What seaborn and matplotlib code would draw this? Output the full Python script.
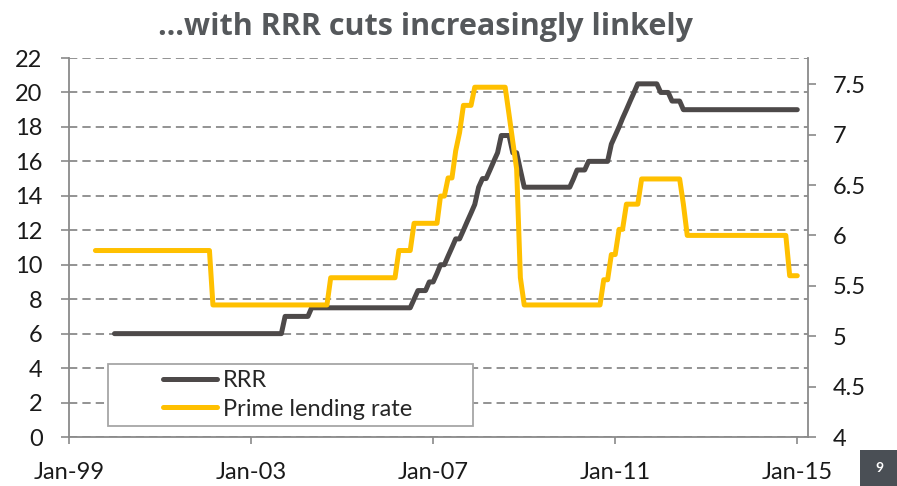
import pandas as pd
import matplotlib
matplotlib.use("Agg")
import matplotlib.pyplot as plt
import matplotlib.dates as mdates
from matplotlib.patches import Rectangle
import seaborn as sns

# Reserve requirement ratio (%, left axis): month in which each level starts
rrr_dates = ["2000-01", "2003-10", "2004-05", "2006-08", "2006-09", "2006-12",
             "2007-02", "2007-03", "2007-05", "2007-06", "2007-07", "2007-09",
             "2007-10", "2007-11", "2007-12", "2008-01", "2008-02", "2008-04",
             "2008-05", "2008-06", "2008-07", "2008-10", "2008-12", "2009-01",
             "2010-02", "2010-03", "2010-06", "2010-12", "2011-01", "2011-02",
             "2011-03", "2011-04", "2011-05", "2011-06", "2011-07", "2012-01",
             "2012-04", "2012-07"]
rrr_levels = [6, 7, 7.5, 8, 8.5, 9,
              9.5, 10, 10.5, 11, 11.5, 12,
              12.5, 13, 13.5, 14.5, 15, 15.5,
              16, 16.5, 17.5, 16.5, 15.5, 14.5,
              15, 15.5, 16, 17, 17.5, 18,
              18.5, 19, 19.5, 20, 20.5, 20,
              19.5, 19]
rrr_last = "2015-01"

# One-year prime lending rate (%, right axis): month in which each level starts
plr_dates = ["1999-08", "2002-03", "2004-10", "2006-04", "2006-08", "2007-03",
             "2007-05", "2007-07", "2007-08", "2007-09", "2007-12", "2008-09",
             "2008-10", "2008-11", "2008-12", "2009-01", "2010-10", "2010-12",
             "2011-02", "2011-04", "2011-08", "2012-07", "2012-08", "2014-11"]
plr_levels = [5.85, 5.31, 5.58, 5.85, 6.12, 6.39,
              6.57, 6.84, 7.02, 7.29, 7.47, 7.20,
              6.93, 6.66, 5.58, 5.31, 5.56, 5.81,
              6.06, 6.31, 6.56, 6.31, 6.00, 5.60]
plr_last = "2015-01"

series_names = ["RRR", "Prime lending rate"]
year_ticks = ["1999-01", "2003-01", "2007-01", "2011-01", "2015-01"]
left_ticks = list(range(0, 23, 2))
right_ticks = [4, 4.5, 5, 5.5, 6, 6.5, 7, 7.5]
title_text = "\u2026with RRR cuts increasingly linkely"
page_number = "9"

GREY_LINE = "#4d4949"
GOLD = "#ffc000"
AXIS_GREY = "#8a8a8a"


def monthly(dates, levels, last):
    """Hold each policy level until the next change, one point per month."""
    s = pd.Series(levels, index=pd.to_datetime(dates))
    idx = pd.date_range(s.index[0], last, freq="MS")
    return s.reindex(idx).ffill()


rrr = monthly(rrr_dates, rrr_levels, rrr_last)
plr = monthly(plr_dates, plr_levels, plr_last)
rrr_df = pd.DataFrame({"date": rrr.index, "value": rrr.values})
plr_df = pd.DataFrame({"date": plr.index, "value": plr.values})

sns.set_style("white")
plt.rcParams["font.family"] = ["Lato", "DejaVu Sans"]

W, H = 897, 486
fig = plt.figure(figsize=(W / 100, H / 100), dpi=100)
ax = fig.add_axes([69 / W, 1 - 437 / H, (808 - 69) / W, (437 - 58) / H])
ax2 = ax.twinx()

sns.lineplot(data=rrr_df, x="date", y="value", ax=ax, color=GREY_LINE,
             linewidth=3.6, solid_capstyle="round", solid_joinstyle="round",
             label=series_names[0], legend=False)
sns.lineplot(data=plr_df, x="date", y="value", ax=ax2, color=GOLD,
             linewidth=3.6, solid_capstyle="round", solid_joinstyle="round",
             label=series_names[1], legend=False)

# axes limits and ticks
ax.set_xlim(pd.Timestamp("1999-01-01"), pd.Timestamp("2015-03-28"))
ax.set_ylim(0, 22)
ax2.set_ylim(4, 7.76)
ax.set_yticks(left_ticks)
ax2.set_yticks(right_ticks)
ax2.set_yticklabels([f"{t:g}" for t in right_ticks])
ax.set_xticks(pd.to_datetime(year_ticks))
ax.xaxis.set_major_formatter(mdates.DateFormatter("%b-%y"))
for a in (ax, ax2):
    a.set_xlabel("")
    a.set_ylabel("")

ax.grid(axis="y", linestyle=(0, (4.6, 2.8)), color=AXIS_GREY, linewidth=1.3)
ax.grid(axis="x", visible=False)
ax2.grid(False)

for a in (ax, ax2):
    a.spines["top"].set_visible(False)
    for side in ("left", "right", "bottom"):
        a.spines[side].set_color(AXIS_GREY)
        a.spines[side].set_linewidth(1.3)
ax.spines["right"].set_visible(False)
ax2.spines["left"].set_visible(False)
ax2.spines["bottom"].set_visible(False)

ax.tick_params(axis="y", direction="out", length=6, width=1.2, color=AXIS_GREY,
               labelsize=17, labelcolor="#1a1a1a", pad=13, left=True)
ax.tick_params(axis="x", direction="out", length=5, width=1.2, color=AXIS_GREY,
               labelsize=17, labelcolor="#1a1a1a", pad=13, bottom=True)
ax2.tick_params(axis="y", direction="out", length=6, width=1.2, color=AXIS_GREY,
                labelsize=17, labelcolor="#1a1a1a", pad=12, right=True)

# legend box: white panel over the grid, entries drawn on top
fig.patches.append(Rectangle((108 / W, 1 - 426 / H), (473 - 108) / W, (426 - 364) / H,
                             transform=fig.transFigure, facecolor="white",
                             edgecolor="#a6a6a6", linewidth=1.3, zorder=4))
handles = ax.get_lines()[:1] + ax2.get_lines()[:1]
leg = fig.legend(handles, series_names, loc="center left",
                 bbox_to_anchor=(163 / W, 1 - 395 / H), bbox_transform=fig.transFigure,
                 frameon=False, fontsize=17, handlelength=2.3, handletextpad=0.25,
                 labelspacing=0.3, borderpad=0, borderaxespad=0)
leg.set_zorder(6)

# title
fig.text(425 / W, 1 - 27 / H, title_text, ha="center", va="center",
         fontsize=22, fontweight="bold", color="#55585b",
         family=["Open Sans", "DejaVu Sans"])

# page number tab
fig.patches.append(Rectangle((860 / W, 0), (W - 860) / W, (486 - 450) / H,
                             transform=fig.transFigure, facecolor="#4a4f55",
                             edgecolor="none", zorder=5))
fig.text(879 / W, 1 - 468 / H, page_number, ha="center", va="center",
         fontsize=10, fontweight="bold", color="white", zorder=6)

fig.savefig("out.png", dpi=100)
